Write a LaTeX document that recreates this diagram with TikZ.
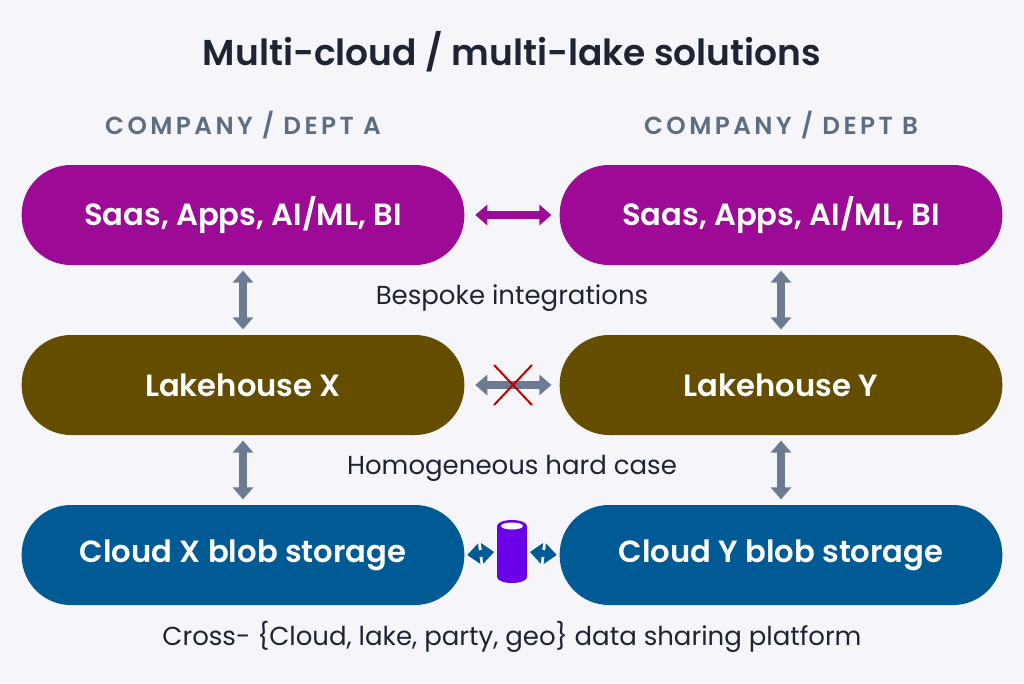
\documentclass[tikz,border=0pt]{standalone}
\usepackage{fontspec}
\setmainfont{Poppins}
\usetikzlibrary{arrows.meta}
\definecolor{bgc}{HTML}{F5F5FA}
\definecolor{ink}{HTML}{1F2433}
\definecolor{head}{HTML}{5E6E82}
\definecolor{saas}{HTML}{9C0A96}
\definecolor{lake}{HTML}{654D00}
\definecolor{blob}{HTML}{005A94}
\definecolor{arr}{HTML}{6A7B92}
\definecolor{cyl}{HTML}{6B00E8}
\newfontfamily\semi{Poppins SemiBold}
\newfontfamily\spaced[LetterSpace=14]{Poppins SemiBold}
\tikzset{
  pill/.style={rounded corners=37pt,minimum width=332pt,minimum height=75pt,
    text=white,font=\semi\fontsize{23}{28}\selectfont},
  fat/.style={line width=6pt,{Triangle[width=15pt,length=9pt]}-{Triangle[width=15pt,length=9pt]}},
  lbl/.style={text=ink,font=\fontsize{19.5}{24}\selectfont},
}
\begin{document}
\begin{tikzpicture}[x=0.75pt,y=-0.75pt]
    \fill[bgc] (0,0) rectangle (1024,683);
    \node[text=ink,font=\semi\fontsize{27}{34}\selectfont] (title) at (512,52) {Multi-cloud / multi-lake solutions};
    \node[text=head,font=\spaced\fontsize{18.5}{22}\selectfont] (ha) at (243,125) {COMPANY / DEPT A};
    \node[text=head,font=\spaced\fontsize{18.5}{22}\selectfont] (hb) at (781,125) {COMPANY / DEPT B};
    % boxes
    \node[pill,fill=saas] (sa) at (243,215) {Saas, Apps, AI/ML, BI};
    \node[pill,fill=saas] (sb) at (781,215) {Saas, Apps, AI/ML, BI};
    \node[pill,fill=lake] (lx) at (243,385) {Lakehouse X};
    \node[pill,fill=lake] (ly) at (781,385) {Lakehouse Y};
    \node[pill,fill=blob] (cx) at (243,555) {Cloud X blob storage};
    \node[pill,fill=blob] (cy) at (781,555) {Cloud Y blob storage};
    % cylinder
    \node[minimum width=22.5pt,minimum height=44pt,inner sep=0pt] (db) at (512,552) {};
    \fill[cyl] (497,526) -- (497,577) arc[start angle=180,end angle=0,x radius=15,y radius=6] -- (527,526) arc[start angle=0,end angle=-180,x radius=15,y radius=6];
    \fill[white] (512,526) ellipse[x radius=11,y radius=3.5];
    % labels
    \node[lbl] (bsp) at (512,298) {Bespoke integrations};
    \node[lbl] (hom) at (512,468) {Homogeneous hard case};
    \node[lbl] (xs) at (512,637) {Cross- \{Cloud, lake, party, geo\} data sharing platform};
    % arrows
    \draw[fat,saas] ([xshift=8pt]sa.east) -- ([xshift=-6pt]sb.west);
    \draw[fat,arr] ([xshift=8pt]lx.east) -- ([xshift=-6pt]ly.west);
    \draw[fat,arr] ([yshift=-4pt]sa.south) -- ([yshift=4pt]lx.north);
    \draw[fat,arr] ([yshift=-4pt]sb.south) -- ([yshift=4pt]ly.north);
    \draw[fat,arr] ([yshift=-4pt]lx.south) -- ([yshift=4pt]cx.north);
    \draw[fat,arr] ([yshift=-4pt]ly.south) -- ([yshift=4pt]cy.north);
    \draw[fat,blob,line width=5pt] ([xshift=2pt]cx.east) -- ([xshift=-2pt]db.west);
    \draw[fat,blob,line width=5pt] ([xshift=2pt]db.east) -- ([xshift=-2pt]cy.west);
    \draw[red!75!black,line width=1.5pt] (494,365) -- (532,405) (532,365) -- (494,405);
\end{tikzpicture}
\end{document}
